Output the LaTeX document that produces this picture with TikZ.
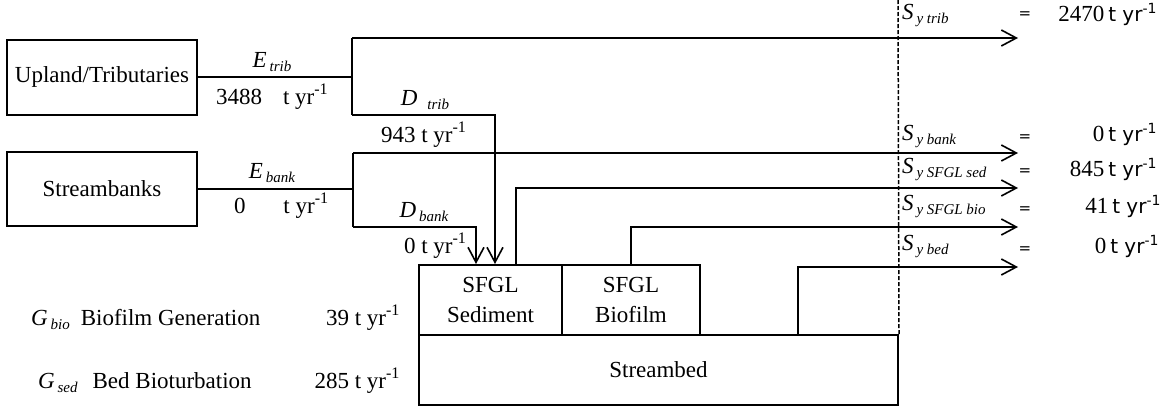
\documentclass[tikz,border=0pt]{standalone}
\usepackage{fontspec}
\setmainfont{Liberation Serif}
\newfontfamily\unitfont{DejaVu Sans}
\usetikzlibrary{arrows.meta}

\newcommand{\flux}[3][3pt]{\textit{#2}\hspace{#1}\raisebox{-4.5pt}{\fontsize{15}{15}\selectfont\textit{#3}}}
\newcommand{\tyr}{t yr\textsuperscript{-1}}
\newcommand{\styr}{{\unitfont\fontsize{20}{20}\selectfont t yr\textsuperscript{-1}}}
\newcommand{\eqs}{{\unitfont\fontsize{15}{15}\selectfont =}}

\begin{document}
\begin{tikzpicture}[
    x=1pt, y=-1pt,
    >={Straight Barb[length=15pt,width=16pt,line width=1.6pt]},
    line width=2pt,
    every node/.style={font=\fontsize{23}{30}\selectfont, inner sep=0pt},
    store/.style={draw, rectangle, align=center},
    divide/.style={line width=1.5pt, dash pattern=on 4pt off 2pt}
]
\useasboundingbox (0,0) rectangle (1164,407);

% source boxes and storages
\node[store, minimum width=190pt, minimum height=75pt] (trib) at (102,77) {Upland/Tributaries};
\node[store, minimum width=190pt, minimum height=74pt] (bank) at (102,189) {Streambanks};
\node[store, minimum width=143pt, minimum height=70pt] (sfglsed) at (490.5,300) {SFGL\\Sediment};
\node[store, minimum width=138pt, minimum height=70pt] (sfglbio) at (631,300) {SFGL\\Biofilm};
\node[store, minimum width=479pt, minimum height=70pt] (bed) at (658.5,370) {Streambed};

% split points and outlets
\coordinate (tribsplit) at (352,77);
\coordinate (tribtop) at (352,38);
\coordinate (tribbot) at (352,115);
\coordinate (banksplit) at (353,189);
\coordinate (banktop) at (353,153);
\coordinate (bankbot) at (353,227);
\coordinate (bedx) at (798,300);
\coordinate (divtop) at (898,0);
\coordinate (outtrib) at (1018,38);
\coordinate (outbank) at (1018,153);
\coordinate (outsed) at (1018,188);
\coordinate (outbio) at (1018,227);
\coordinate (outbed) at (1018,267);

\draw[divide] (divtop) -- (bed.north east);

\draw (trib) -- (tribsplit);
\draw (tribtop) -- (tribbot);
\draw[->] (tribtop) -- (outtrib);
\draw[->] (tribbot) -| ([xshift=4.5pt]sfglsed.north);

\draw (bank) -- (banksplit);
\draw (banktop) -- (bankbot);
\draw[->] (banktop) -- (outbank);
\draw[->] (bankbot) -| ([xshift=-14.5pt]sfglsed.north);

\draw[->] ([xshift=25.5pt]sfglsed.north) |- (outsed);
\draw[->] (sfglbio.north) |- (outbio);
\draw[->] (bed.north -| bedx) |- (outbed);

% flux labels
\node[anchor=base] (etrib) at (272,67) {\flux{E}{trib}};
\node[anchor=base west] (qtrib) at (215,104) {3488\hspace{21pt}\tyr};
\node[anchor=base] (dtrib) at (425,105) {\flux[10pt]{D}{trib}};
\node[anchor=base west] (qdtrib) at (380,142) {943 \tyr};
\node[anchor=base] (ebank) at (272,178) {\flux{E}{bank}};
\node[anchor=base west] (qbank) at (233,213) {0\hspace{38pt}\tyr};
\node[anchor=base] (dbank) at (424,217) {\flux{D}{bank}};
\node[anchor=base west] (qdbank) at (403,253) {0 \tyr};

\node[anchor=base west] (gbio) at (30,325) {\flux{G}{bio}\hspace{11pt}Biofilm Generation};
\node[anchor=base east] (qgbio) at (401,325) {39 \tyr};
\node[anchor=base west] (gsed) at (37,388) {\flux{G}{sed}\hspace{15pt}Bed Bioturbation};
\node[anchor=base east] (qgsed) at (401,388) {285 \tyr};

% sediment yield at the outlet
\node[anchor=base west] (strib) at (901,19) {\flux{S}{y trib}};
\node (eqtrib) at (1025,15) {\eqs};
\node[anchor=base east] (vtrib) at (1158,21) {2470\,\styr};
\node[anchor=base west] (sbank) at (901,140) {\flux{S}{y bank}};
\node (eqbank) at (1025,138) {\eqs};
\node[anchor=base east] (vbank) at (1158,141) {0\,\styr};
\node[anchor=base west] (ssed) at (901,173) {\flux{S}{y SFGL sed}};
\node (eqsed) at (1025,172) {\eqs};
\node[anchor=base east] (vsed) at (1158,176) {845\,\styr};
\node[anchor=base west] (sbio) at (901,210) {\flux{S}{y SFGL bio}};
\node (eqbio) at (1025,210) {\eqs};
\node[anchor=base east] (vbio) at (1162,213) {41\,\styr};
\node[anchor=base west] (sbed) at (901,250) {\flux{S}{y bed}};
\node (eqbed) at (1025,250) {\eqs};
\node[anchor=base east] (vbed) at (1160,253) {0\,\styr};
\end{tikzpicture}
\end{document}
